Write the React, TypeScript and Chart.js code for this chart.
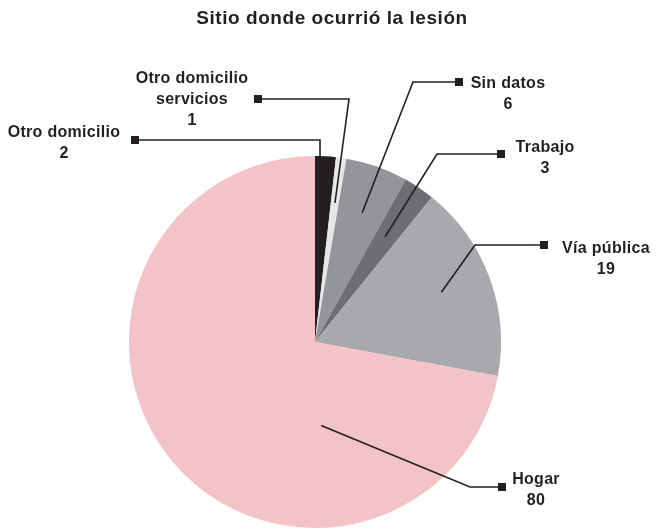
import React, { useEffect, useRef } from "react";
import { Chart, registerables } from "chart.js";

Chart.register(...registerables);

const TITLE = "Sitio donde ocurrió la lesión";
const categories = ["Otro domicilio", "Otro domicilio servicios", "Sin datos", "Trabajo", "Vía pública", "Hogar"];
const values = [2, 1, 6, 3, 19, 80];
const labelLines = [["Otro domicilio"], ["Otro domicilio", "servicios"], ["Sin datos"], ["Trabajo"], ["Vía pública"], ["Hogar"]];
const colors = ["#231f20", "#e6e7e8", "#939598", "#6d6e71", "#a7a9ac", "#f4c3c8"];

// leader layout: t = position within slice angle, f = radius fraction, elbow & square in px, text center x / first baseline
const leaders = [
  { t: 0.24, f: 0.995, elbow: [320, 140], sq: [135, 140], text: [64, 137] },
  { t: 0.52, f: 0.755, elbow: [349, 99], sq: [258, 99], text: [192, 83] },
  { t: 0.53, f: 0.74, elbow: [413, 82], sq: [459, 82], text: [508, 88] },
  { t: 0.46, f: 0.68, elbow: [437, 154], sq: [501, 154], text: [545, 152] },
  { t: 0.48, f: 0.73, elbow: [475, 245], sq: [544, 245], text: [606, 253] },
  { t: 0.29, f: 0.45, elbow: [470, 487], sq: [502, 487], text: [536, 484] },
];

const FONT = '"Liberation Sans", Arial, sans-serif';

const labelPlugin = {
  id: "leaderLabels",
  afterDraw(chart: any) {
    const ctx = chart.ctx;
    ctx.save();
    // title
    ctx.fillStyle = "#231f20";
    ctx.font = `bold 19px ${FONT}`;
    (ctx as any).letterSpacing = "0.55px";
    ctx.textAlign = "center";
    ctx.textBaseline = "alphabetic";
    ctx.fillText(TITLE, 332, 24);

    const meta = chart.getDatasetMeta(0);
    meta.data.forEach((arc: any, i: number) => {
      const p = arc.getProps(["x", "y", "startAngle", "endAngle", "outerRadius"], true);
      const L = leaders[i];
      const a = p.startAngle + L.t * (p.endAngle - p.startAngle);
      const ax = p.x + Math.cos(a) * p.outerRadius * L.f;
      const ay = p.y + Math.sin(a) * p.outerRadius * L.f;
      ctx.strokeStyle = "#231f20";
      ctx.lineWidth = 1.6;
      ctx.beginPath();
      ctx.moveTo(ax, ay);
      ctx.lineTo(L.elbow[0], L.elbow[1]);
      ctx.lineTo(L.sq[0], L.sq[1]);
      ctx.stroke();
      ctx.fillStyle = "#231f20";
      ctx.fillRect(L.sq[0] - 4, L.sq[1] - 4, 8, 8);

      ctx.font = `bold 16px ${FONT}`;
      (ctx as any).letterSpacing = "0.3px";
      ctx.textAlign = "center";
      ctx.textBaseline = "alphabetic";
      const lines = [...labelLines[i], String(values[i])];
      lines.forEach((s, k) => {
        ctx.fillText(s, L.text[0], L.text[1] + k * 21);
      });
    });
    ctx.restore();
  },
};

export default function App() {
  const ref = useRef<HTMLCanvasElement | null>(null);
  useEffect(() => {
    if (!ref.current) return;
    const chart = new Chart(ref.current, {
      type: "pie",
      data: {
        labels: categories,
        datasets: [
          {
            data: values,
            backgroundColor: colors,
            borderWidth: 0,
          },
        ],
      },
      options: {
        responsive: false,
        animation: false,
        layout: { padding: { left: 129, right: 156, top: 156, bottom: 1 } },
        plugins: {
          legend: { display: false },
          title: { display: false },
          tooltip: { enabled: false },
        },
      },
      plugins: [labelPlugin],
    });
    return () => chart.destroy();
  }, []);
  return (
    <div style={{ position: "fixed", left: 0, top: 0, width: 657, height: 529, background: "#fff" }}>
      <canvas ref={ref} width={657} height={529} style={{ display: "block" }} />
    </div>
  );
}
